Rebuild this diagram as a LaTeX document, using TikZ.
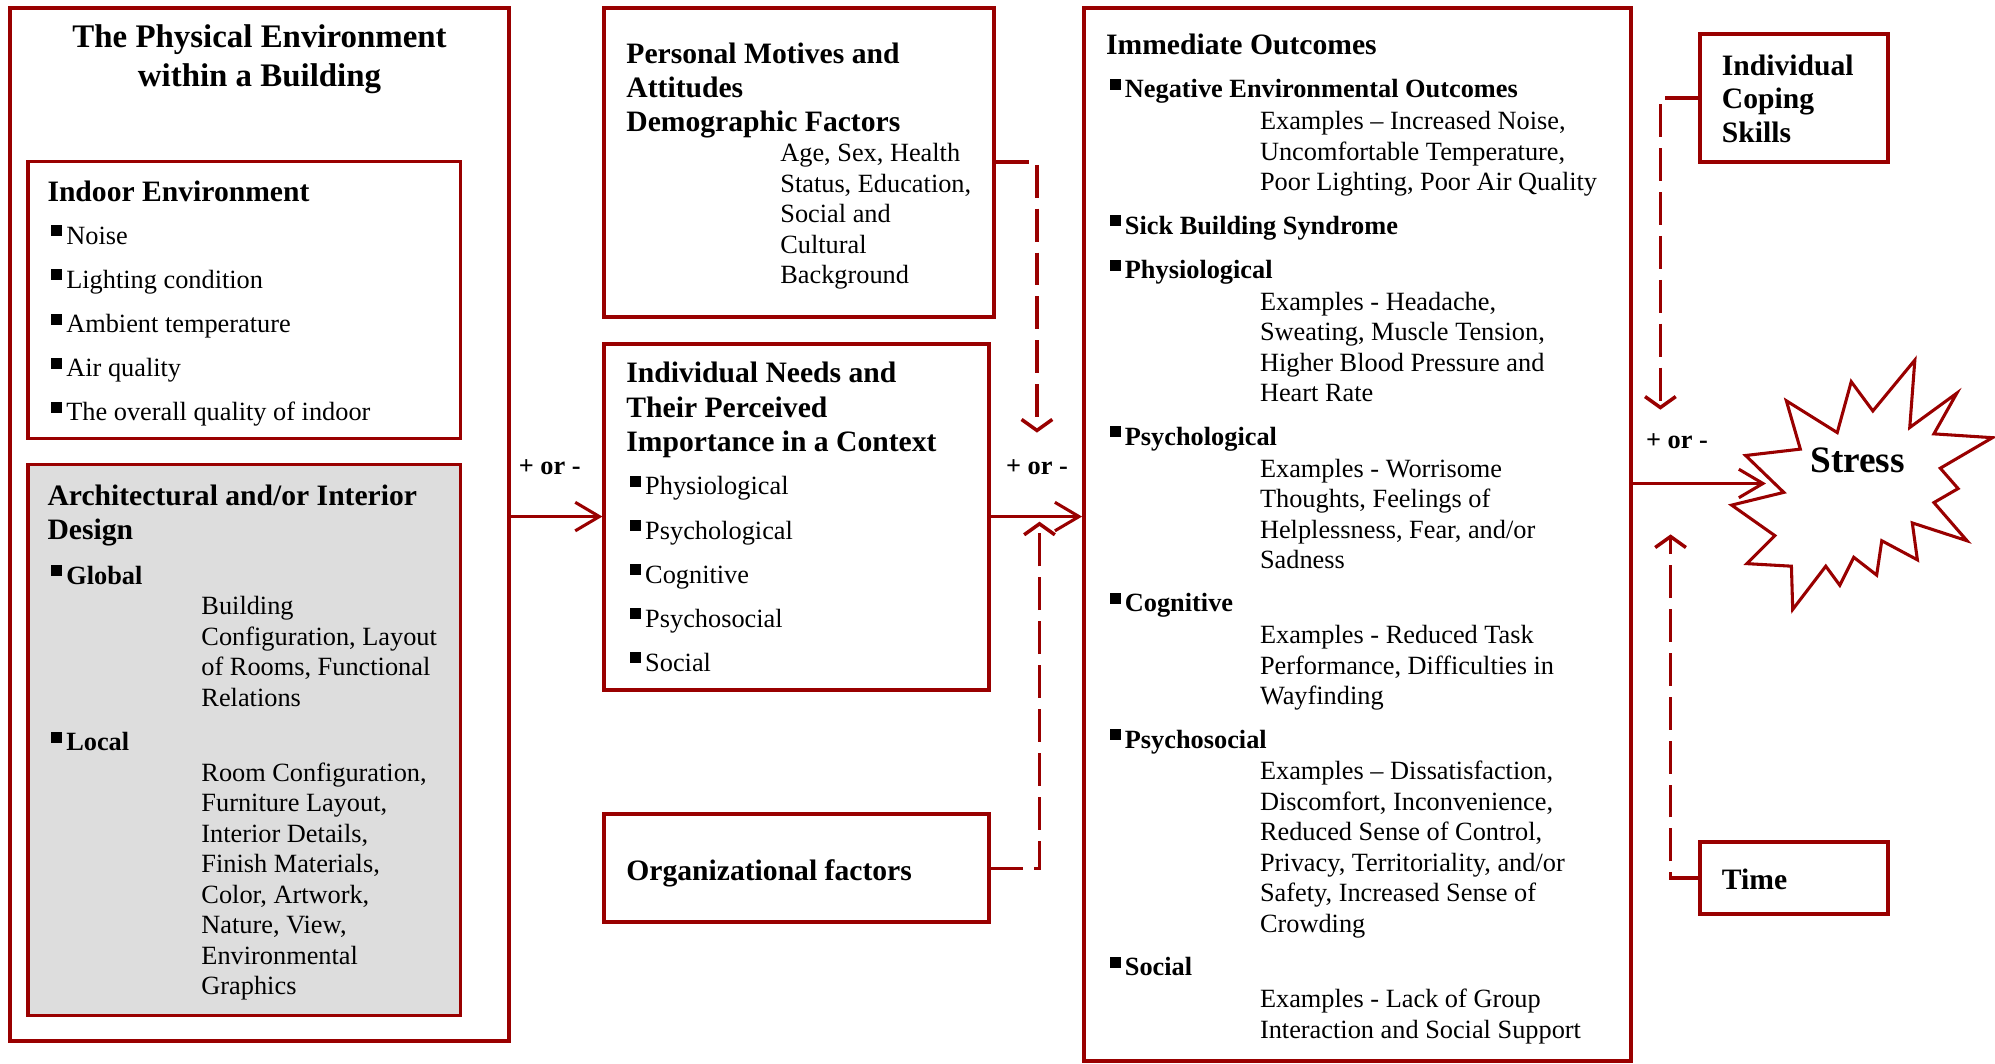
\documentclass[tikz,border=0pt]{standalone}
\usepackage{fontspec}
\setmainfont{Liberation Serif}
\usetikzlibrary{arrows.meta, fit, calc}
\definecolor{boxred}{RGB}{153,0,0}
\definecolor{archgray}{RGB}{221,221,221}
\newcommand{\bsq}{\rule[0.3em]{0.42em}{0.42em}\hspace{0.15em}}
\newcommand{\lns}[1]{\begin{tabular}[t]{@{}l@{}}#1\end{tabular}}
\newcommand{\clns}[1]{\begin{tabular}[t]{@{}c@{}}#1\end{tabular}}
\tikzset{
  box/.style={draw=boxred, line width=1.8pt, inner sep=0pt},
  inbox/.style={draw=boxred, line width=1.4pt, inner sep=0pt},
  txt/.style={inner sep=0pt, anchor=base west, font=\fontsize{12}{13.9}\selectfont},
  hd/.style={inner sep=0pt, anchor=base west, font=\fontsize{13.5}{15.4}\selectfont\bfseries},
  sub/.style={inner sep=0pt, anchor=base west, font=\fontsize{12}{13.9}\selectfont\bfseries},
  list/.style={inner sep=0pt, anchor=base west, font=\fontsize{12}{20.1}\selectfont},
  pm/.style={inner sep=0pt, font=\fontsize{12}{14}\selectfont\bfseries},
  arr/.style={draw=boxred, line width=1.4pt, -{Straight Barb[length=11pt,width=13pt]}},
  dline/.style={draw=boxred, line width=1.6pt, dash pattern=on 15pt off 5pt, -{Straight Barb[length=5pt,width=14pt]}},
}
\begin{document}
\begin{tikzpicture}[x=0.58pt, y=-0.58pt]
\useasboundingbox (0,0) rectangle (1568,836);
% physical environment
\node[box, fit={(8,6) (400,818)}] (outer) {};
\node[inner sep=0pt, anchor=base, font=\fontsize{15}{18}\selectfont\bfseries] (title) at (204,37) {\clns{The Physical Environment\\within a Building}};
\node[inbox, fit={(22,127) (362,345)}] (indoor) {};
\node[hd] (indoorhd) at (37,158) {Indoor Environment};
\node[list] (indoorlist) at (40,192) {\lns{\bsq Noise\\ \bsq Lighting condition\\ \bsq Ambient temperature\\ \bsq Air quality\\ \bsq The overall quality of indoor}};
\node[inbox, fill=archgray, fit={(22,365) (362,798)}] (arch) {};
\node[hd, font=\fontsize{13.5}{15.7}\selectfont\bfseries] (archhd) at (37,397) {\lns{Architectural and/or Interior\\Design}};
\node[sub] (global) at (40,459) {\bsq Global};
\node[txt] (globaltxt) at (158,483) {\lns{Building\\Configuration, Layout\\of Rooms, Functional\\Relations}};
\node[sub] (local) at (40,590) {\bsq Local};
\node[txt] (localtxt) at (158,614) {\lns{Room Configuration,\\Furniture Layout,\\Interior Details,\\Finish Materials,\\Color, Artwork,\\Nature, View,\\Environmental\\Graphics}};
% personal factors and needs
\node[box, fit={(475,6) (781,249)}] (personal) {};
\node[hd] (personalhd) at (492,50) {\lns{Personal Motives and\\Attitudes\\Demographic Factors}};
\node[txt] (personaltxt) at (613,127) {\lns{Age, Sex, Health\\Status, Education,\\Social and\\Cultural\\Background}};
\node[box, fit={(475,270) (777,542)}] (needs) {};
\node[hd, font=\fontsize{13.5}{15.7}\selectfont\bfseries] (needshd) at (492,301) {\lns{Individual Needs and\\Their Perceived\\Importance in a Context}};
\node[list] (needslist) at (495,389) {\lns{\bsq Physiological\\ \bsq Psychological\\ \bsq Cognitive\\ \bsq Psychosocial\\ \bsq Social}};
\node[box, fit={(475,640) (777,725)}] (org) {};
\node[hd] (orghd) at (492,692) {Organizational factors};
% outcomes
\node[box, fit={(852,6) (1282,834)}] (outcomes) {};
\node[hd] (outhd) at (869,43) {Immediate Outcomes};
\node[sub] (neg) at (872,77) {\bsq Negative Environmental Outcomes};
\node[txt] (negtxt) at (990,102) {\lns{Examples – Increased Noise,\\Uncomfortable Temperature,\\Poor Lighting, Poor Air Quality}};
\node[sub] (sick) at (872,184) {\bsq Sick Building Syndrome};
\node[sub] (physio) at (872,219) {\bsq Physiological};
\node[txt] (physiotxt) at (990,244) {\lns{Examples - Headache,\\Sweating, Muscle Tension,\\Higher Blood Pressure and\\Heart Rate}};
\node[sub] (psych) at (872,350) {\bsq Psychological};
\node[txt] (psychtxt) at (990,375) {\lns{Examples - Worrisome\\Thoughts, Feelings of\\Helplessness, Fear, and/or\\Sadness}};
\node[sub] (cog) at (872,481) {\bsq Cognitive};
\node[txt] (cogtxt) at (990,506) {\lns{Examples - Reduced Task\\Performance, Difficulties in\\Wayfinding}};
\node[sub] (psysoc) at (872,588) {\bsq Psychosocial};
\node[txt] (psysoctxt) at (990,613) {\lns{Examples – Dissatisfaction,\\Discomfort, Inconvenience,\\Reduced Sense of Control,\\Privacy, Territoriality, and/or\\Safety, Increased Sense of\\Crowding}};
\node[sub] (social) at (872,767) {\bsq Social};
\node[txt] (socialtxt) at (990,792) {\lns{Examples - Lack of Group\\Interaction and Social Support}};
% moderators
\node[box, fit={(1336,27) (1484,127)}] (coping) {};
\node[hd] (copinghd) at (1353,59) {\lns{Individual\\Coping\\Skills}};
\node[box, fit={(1336,662) (1484,718)}] (time) {};
\node[hd] (timehd) at (1353,699) {Time};
% stress burst
\draw[boxred, line width=1.4pt, fill=white] (1404,315) -- (1415,353) -- (1372,358) -- (1402,387) -- (1361,397) -- (1395,421) -- (1373,443) -- (1408,445) -- (1409,479) -- (1435,445) -- (1446,460) -- (1457,438) -- (1475,452) -- (1479,425) -- (1507,440) -- (1503,411) -- (1546,425) -- (1520,395) -- (1539,384) -- (1525,368) -- (1566,344) -- (1520,341) -- (1538,309) -- (1501,336) -- (1505,283) -- (1472,323) -- (1455,300) -- (1444,340) -- cycle;
\node[inner sep=0pt, font=\fontsize{17}{20}\selectfont\bfseries] (stress) at (1460,362) {Stress};
% connectors
\coordinate (stressin) at (1388,380);
\draw[arr] (outer.east |- needs.west) -- (needs.west);
\draw[arr] (needs.east) -- (needs.east -| outcomes.west);
\draw[arr] (outcomes.east |- stressin) -- (stressin);
\node[pm] (pm1) at (432,367) {+ or -};
\node[pm] (pm2) at (815,367) {+ or -};
\node[pm] (pm3) at (1318,347) {+ or -};
\coordinate (persend) at (815,340);
\coordinate (orgend) at (817,410);
\coordinate (copeend) at (1305,322);
\coordinate (timeend) at (1313,420);
\draw[dline] (personal.east) -| (persend);
\draw[dline] (org.east) -| (orgend);
\draw[dline] (coping.west) -| (copeend);
\draw[dline] (time.west) -| (timeend);
\end{tikzpicture}
\end{document}
